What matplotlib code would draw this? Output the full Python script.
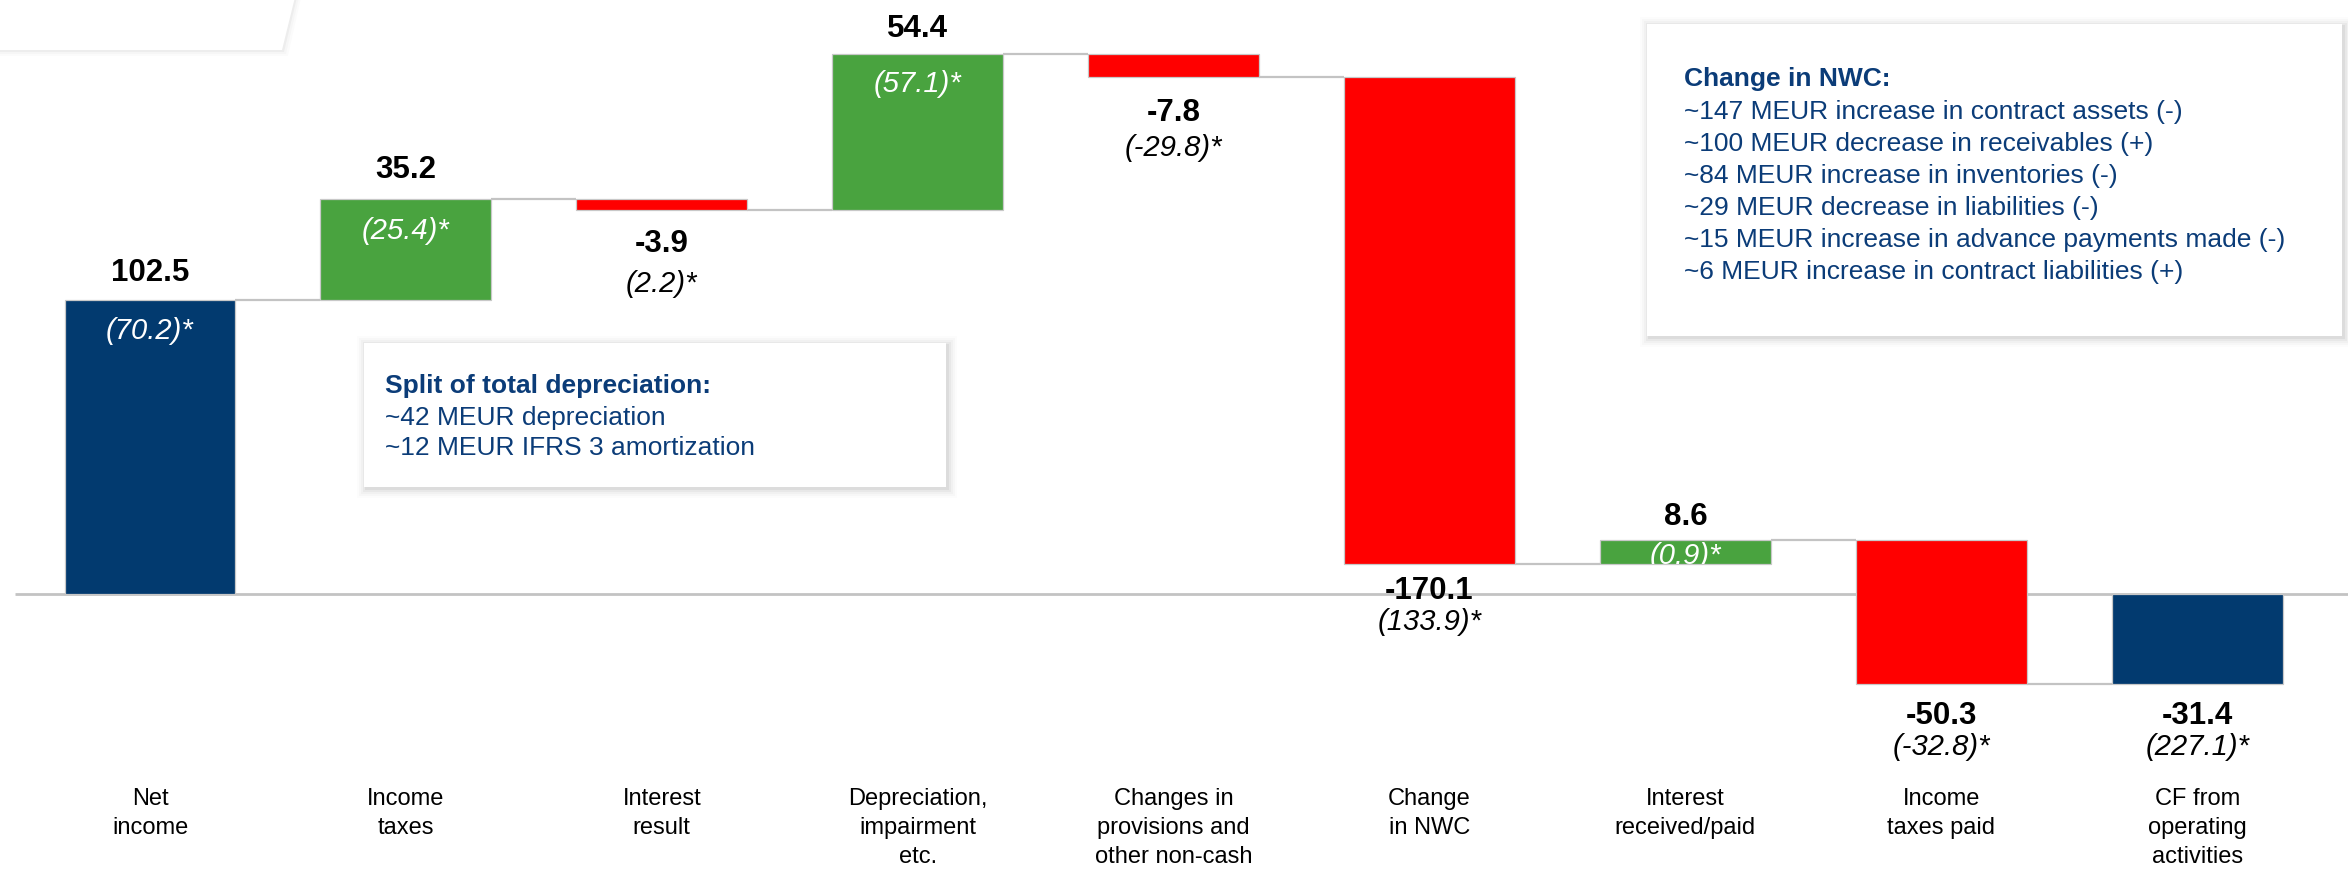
import matplotlib
matplotlib.use('Agg')
import matplotlib.pyplot as plt
from matplotlib.patches import Rectangle, Polygon

# ---------------- data ----------------
categories = ["Net\nincome", "Income\ntaxes", "Interest\nresult",
              "Depreciation,\nimpairment\netc.", "Changes in\nprovisions and\nother non-cash",
              "Change\nin NWC", "Interest\nreceived/paid", "Income\ntaxes paid",
              "CF from\noperating\nactivities"]
values = [102.5, 35.2, -3.9, 54.4, -7.8, -170.1, 8.6, -50.3, -31.4]
prior_year = [70.2, 25.4, 2.2, 57.1, -29.8, 133.9, 0.9, -32.8, 227.1]
bar_kind = ["total", "delta", "delta", "delta", "delta", "delta", "delta", "delta", "total"]

dep_title = "Split of total depreciation:"
dep_lines = ["~42 MEUR depreciation", "~12 MEUR IFRS 3 amortization"]
nwc_title = "Change in NWC:"
nwc_lines = ["~147 MEUR increase in contract assets (-)",
             "~100 MEUR decrease in receivables (+)",
             "~84 MEUR increase in inventories (-)",
             "~29 MEUR decrease in liabilities (-)",
             "~15 MEUR increase in advance payments made (-)",
             "~6 MEUR increase in contract liabilities (+)"]

# ---------------- style / layout ----------------
NAVY = "#023a6f"
GREEN = "#49a33f"
RED = "#ff0000"
TXT_NAVY = "#0b3c78"
GRID = "#c3c3c3"
FONT = "Liberation Sans"
plt.rcParams['font.family'] = [FONT, 'DejaVu Sans']

W, H = 2348, 870
X0, DX = 150.0, 255.9        # pixel position of first bar centre, spacing
Y0, SY = 595.0, 2.868        # baseline pixel, pixels per unit
BAR_W = 0.668

# label offsets (pixels) relative to bar end
bold_off = [28, 30, -33, 26, -35, -26, 24, -31, -31]
ital_off = [-30, -31, -73, -29, -70, -57, -15, -62, -62]

fig = plt.figure(figsize=(W / 100, H / 100), dpi=100)
ax = fig.add_axes([0, 0, 1, 1])
ax.set_xlim(-X0 / DX, (W - X0) / DX)
ax.set_ylim(-(H - Y0) / SY, Y0 / SY)
ax.axis('off')

def fx(px):
    return px / W

def fy(py):
    return 1 - py / H

# ---------------- decoration top-left ----------------
for k, a in [(6, 0.015), (4, 0.02), (2, 0.035)]:
    ax_poly = Polygon([(fx(0), fy(-10)), (fx(297 + k), fy(-10)), (fx(282 + k), fy(51 + k)),
                       (fx(0), fy(51 + k))], closed=True, transform=fig.transFigure,
                      facecolor='#000000', alpha=a, edgecolor='none', zorder=0)
    fig.patches.append(ax_poly)
fig.patches.append(Polygon([(fx(0), fy(-10)), (fx(297), fy(-10)), (fx(282), fy(51)), (fx(0), fy(51))],
                           closed=True, transform=fig.transFigure, facecolor='white',
                           edgecolor='none', zorder=0))

# ---------------- bars ----------------
xs = list(range(len(values)))
bottoms, heights, colors = [], [], []
cum = 0.0
levels = []
for v, kind in zip(values, bar_kind):
    if kind == "total":
        bottoms.append(0.0)
        heights.append(v)
        colors.append(NAVY)
        cum = v
    else:
        bottoms.append(cum)
        heights.append(v)
        colors.append(GREEN if v >= 0 else RED)
        cum += v
    levels.append(cum)

# baseline
ax.plot([(15 - X0) / DX, (W - X0) / DX], [0, 0], color=GRID, lw=2.0, zorder=1,
        solid_capstyle='butt')

bars = ax.bar(xs, heights, bottom=bottoms, width=BAR_W, color=colors,
              edgecolor='#c8c8c8', linewidth=0.9, zorder=2)

# connectors
for i in range(len(values) - 1):
    ax.plot([xs[i] + BAR_W / 2, xs[i + 1] - BAR_W / 2], [levels[i], levels[i]],
            color=GRID, lw=1.6, zorder=1, solid_capstyle='butt')

# value labels
for i, (v, b, h, kind) in enumerate(zip(values, bottoms, heights, bar_kind)):
    top = max(b, b + h)
    bot = min(b, b + h)
    anchor = top if v >= 0 else bot
    ax.annotate(f"{v:.1f}", xy=(xs[i], anchor), xytext=(0, bold_off[i]),
                textcoords='offset pixels', ha='center', va='center',
                fontsize=22.5, fontweight='bold', color='black', zorder=5)
    inside = v >= 0
    t = ax.annotate(f"({prior_year[i]:.1f})*", xy=(xs[i], anchor), xytext=(0, ital_off[i]),
                    textcoords='offset pixels', ha='center', va='center',
                    fontsize=21, fontstyle='italic',
                    color='white' if inside else 'black', zorder=5)
    if inside:
        t.set_clip_path(bars[i])

# category labels
for i, c in enumerate(categories):
    ax.text(xs[i], -(788 - Y0) / SY, c, ha='center', va='top', fontsize=17,
            linespacing=1.4, color='black')

# ---------------- annotation boxes ----------------
def draw_box(x0, y0, x1, y1):
    for k, a in [(9, 0.012), (7, 0.018), (5, 0.025), (3, 0.035), (1, 0.05)]:
        r = Rectangle((fx(x0 - k + 2), fy(y1 + k + 2)), fx(x1 - x0 + 2 * k), (y1 - y0 + 2 * k) / H,
                      transform=fig.transFigure, facecolor='black', alpha=a,
                      edgecolor='none', zorder=3)
        fig.patches.append(r)
    fig.patches.append(Rectangle((fx(x0), fy(y1)), fx(x1 - x0), (y1 - y0) / H,
                                 transform=fig.transFigure, facecolor='white',
                                 edgecolor='none', zorder=3))

draw_box(364, 344, 946, 488)
fig.text(fx(385), fy(386), dep_title, fontsize=19, fontweight='bold', color=TXT_NAVY,
         ha='left', va='center', zorder=6)
for j, line in enumerate(dep_lines):
    fig.text(fx(385), fy(418 + 30 * j), line, fontsize=19, color=TXT_NAVY,
             ha='left', va='center', zorder=6)

draw_box(1647, 25, 2342, 337)
fig.text(fx(1684), fy(79), nwc_title, fontsize=19, fontweight='bold', color=TXT_NAVY,
         ha='left', va='center', zorder=6)
for j, line in enumerate(nwc_lines):
    fig.text(fx(1684), fy(112 + 32 * j), line, fontsize=19, color=TXT_NAVY,
             ha='left', va='center', zorder=6)

fig.savefig("out.png", dpi=100, facecolor='white')
